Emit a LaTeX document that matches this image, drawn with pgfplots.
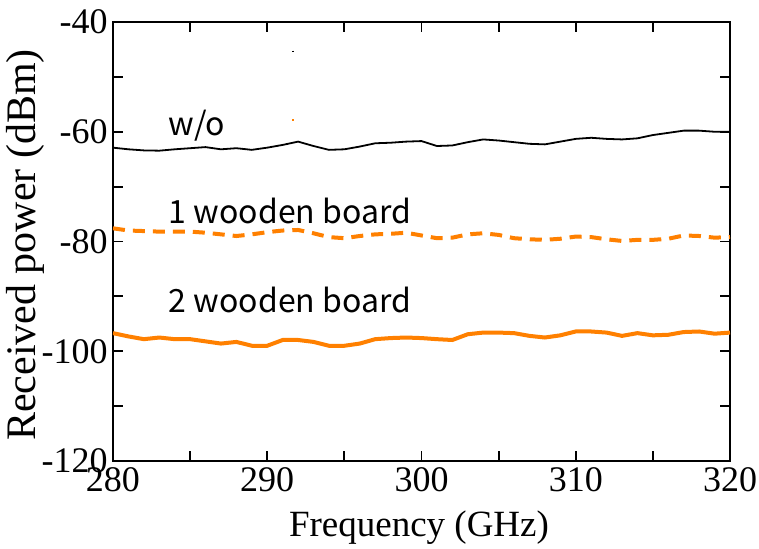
\documentclass[border=0pt]{standalone}
\usepackage{fontspec}
\setmainfont{Liberation Serif}
\newfontfamily\tickfont{Liberation Serif}
\newfontfamily\annfont{Noto Sans CJK JP}
\usepackage{pgfplots}
\pgfplotsset{compat=1.18}
\definecolor{wood}{RGB}{255,128,0}

\begin{document}
\setbox0=\hbox{\tickfont\fontsize{18}{18}\selectfont -0123456789}%
\begin{tikzpicture}
  \begin{axis}[
    name=ax,
    scale only axis,
    width=308.5pt, height=219.5pt,
    xmin=280, xmax=320, ymin=-120, ymax=-40,
    xtick={280,290,...,320},
    minor xtick={285,295,305,315},
    ytick={-120,-100,-80,-60,-40},
    minor ytick={-110,-90,-70,-50},
    xticklabel={\tickfont\pgfmathprintnumber[assume math mode=true]{\tick}},
    yticklabel={\tickfont\pgfmathprintnumber[assume math mode=true]{\tick}},
    tick align=inside,
    tick pos=both,
    major tick length=5pt,
    minor tick length=5pt,
    every tick/.style={black, line width=0.9pt},
    axis line style={line width=1pt},
    ticklabel style={font=\tickfont\fontsize{18}{18}\selectfont, inner sep=0pt},
    xticklabel style={yshift=-3pt},
    yticklabel style={xshift=-2.5pt},
    xlabel={Frequency (GHz)},
    ylabel={Received power (dBm)},
    xlabel style={font=\fontsize{18.5}{18.5}\selectfont, at={(axis description cs:0.496,-0.173)}, anchor=base},
    ylabel style={font=\fontsize{21}{21}\selectfont, at={(axis description cs:-0.1426,0.492)}, anchor=center},
  ]
    % w/o
    \addplot[black, line width=0.9pt] coordinates {
      (280,-62.9) (281,-63.2) (282,-63.4) (283,-63.45) (284,-63.2) (285,-63.0)
      (286,-62.8) (287,-63.2) (288,-63.0) (289,-63.3) (290,-62.9) (291,-62.4)
      (292,-61.8) (293,-62.6) (294,-63.3) (295,-63.2) (296,-62.7) (297,-62.1)
      (298,-62.0) (299,-61.8) (300,-61.7) (301,-62.6) (302,-62.5) (303,-61.9)
      (304,-61.4) (305,-61.6) (306,-61.9) (307,-62.2) (308,-62.3) (309,-61.8)
      (310,-61.3) (311,-61.1) (312,-61.3) (313,-61.4) (314,-61.2) (315,-60.6)
      (316,-60.2) (317,-59.8) (318,-59.8) (319,-60.0) (320,-60.0)
    };
    % 1 wooden board
    \addplot[wood, line width=2pt, dash pattern=on 6pt off 4pt] coordinates {
      (280,-77.6) (281,-78.0) (282,-78.1) (283,-78.2) (284,-78.2) (285,-78.2)
      (286,-78.4) (287,-78.7) (288,-79.0) (289,-78.7) (290,-78.3) (291,-78.0)
      (292,-77.9) (293,-78.5) (294,-79.2) (295,-79.4) (296,-79.0) (297,-78.7)
      (298,-78.6) (299,-78.4) (300,-78.9) (301,-79.4) (302,-79.3) (303,-78.7)
      (304,-78.5) (305,-78.8) (306,-79.4) (307,-79.6) (308,-79.7) (309,-79.5)
      (310,-79.1) (311,-79.2) (312,-79.6) (313,-79.9) (314,-79.7) (315,-79.7)
      (316,-79.5) (317,-78.9) (318,-79.0) (319,-79.3) (320,-79.2)
    };
    % 2 wooden board
    \addplot[wood, line width=2pt] coordinates {
      (280,-96.7) (281,-97.3) (282,-97.8) (283,-97.5) (284,-97.8) (285,-97.8)
      (286,-98.2) (287,-98.6) (288,-98.3) (289,-99.0) (290,-99.0) (291,-97.95)
      (292,-97.95) (293,-98.3) (294,-99.0) (295,-99.0) (296,-98.6) (297,-97.8)
      (298,-97.6) (299,-97.5) (300,-97.6) (301,-97.8) (302,-97.95) (303,-96.9)
      (304,-96.6) (305,-96.6) (306,-96.7) (307,-97.2) (308,-97.5) (309,-97.1)
      (310,-96.4) (311,-96.4) (312,-96.6) (313,-97.2) (314,-96.7) (315,-97.1)
      (316,-97.0) (317,-96.5) (318,-96.4) (319,-96.8) (320,-96.6)
    };
    % stray specks left in the figure
    \addplot[black, line width=0.6pt] coordinates {(291.67,-45.2) (291.67,-45.4)};
    \addplot[wood, line width=0.8pt] coordinates {(291.67,-57.7) (291.67,-58.1)};

    \coordinate (t0) at (axis cs:283.6,-58.8);
    \coordinate (t1) at (axis cs:283.6,-74.5);
    \coordinate (t2) at (axis cs:283.6,-90.6);
  \end{axis}
  \begin{scope}[every node/.style={font=\annfont\fontsize{16}{16}\selectfont, anchor=west, inner sep=0pt}]
    \node at (t0) {w/o};
    \node at (t1) {1 wooden board};
    \node at (t2) {2 wooden board};
  \end{scope}
  \pgfresetboundingbox
  \path ([shift={(-56.5pt,-44pt)}]ax.south west) rectangle ([shift={(323pt,230.5pt)}]ax.south west);
\end{tikzpicture}
\end{document}
